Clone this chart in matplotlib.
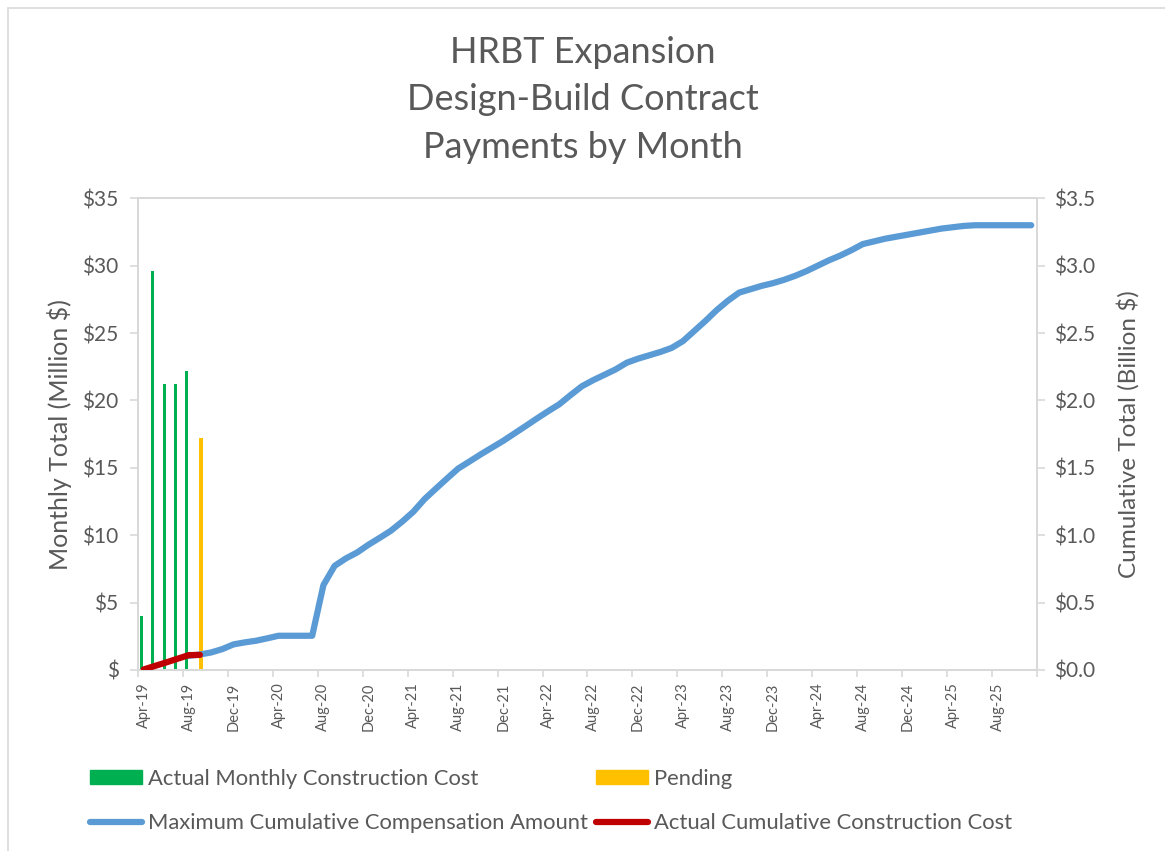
import matplotlib
matplotlib.use("Agg")
import matplotlib.pyplot as plt
import numpy as np
from matplotlib.lines import Line2D
from matplotlib.patches import Patch, Rectangle
from matplotlib.ticker import FuncFormatter

plt.rcParams['font.family'] = ['Lato', 'DejaVu Sans']

GREY_TXT = "#595959"
GREY_LN = "#D9D9D9"

# months on the category axis: Apr-19 .. Nov-25
n_months = 80
tick_labels = ["Apr-19", "Aug-19", "Dec-19", "Apr-20", "Aug-20", "Dec-20", "Apr-21",
               "Aug-21", "Dec-21", "Apr-22", "Aug-22", "Dec-22", "Apr-23", "Aug-23",
               "Dec-23", "Apr-24", "Aug-24", "Dec-24", "Apr-25", "Aug-25"]

# monthly payments, million $ (Apr-19 .. Aug-19)
actual_monthly = [4.0, 29.6, 21.2, 21.2, 22.2]
# pending payment, Sep-19
pending_start = 5
pending_monthly = [17.2]

# actual cumulative, billion $ (Apr-19 .. Sep-19)
actual_cum = [0.004, 0.030, 0.056, 0.083, 0.110, 0.112]

# maximum cumulative compensation, billion $ (Aug-19 .. Nov-25)
max_start = 4
max_cum = [0.105, 0.115, 0.13, 0.155, 0.19, 0.205, 0.217, 0.235, 0.254, 0.254,
           0.254, 0.254, 0.63, 0.773, 0.828, 0.872, 0.929, 0.98, 1.033, 1.10,
           1.174, 1.268, 1.345, 1.421, 1.495, 1.547, 1.60, 1.65, 1.70, 1.755,
           1.81, 1.866, 1.92, 1.972, 2.04, 2.105, 2.15, 2.19, 2.23, 2.28,
           2.31, 2.335, 2.36, 2.39, 2.44, 2.515, 2.59, 2.67, 2.74, 2.80,
           2.825, 2.85, 2.87, 2.895, 2.925, 2.96, 3.00, 3.04, 3.075, 3.115,
           3.16, 3.18, 3.20, 3.215, 3.23, 3.245, 3.26, 3.275, 3.285, 3.295,
           3.30, 3.30, 3.30, 3.30, 3.30, 3.30]

fig = plt.figure(figsize=(11.65, 8.51), dpi=100)
fig.subplots_adjust(left=0.1185, right=0.890, bottom=0.2127, top=0.767)
ax = fig.add_subplot(1, 1, 1)
ax2 = ax.twinx()

# chart border (left / top visible)
fig.patches.append(Rectangle((8 / 1165, -0.01), 1.02, 1 - 8 / 851 + 0.01,
                             transform=fig.transFigure, fill=False,
                             edgecolor=GREY_LN, linewidth=1.2))

x_act = np.arange(len(actual_monthly))
ax.bar(x_act - 0.18, actual_monthly, width=0.25, color="#00B050", zorder=2)
x_pen = np.arange(pending_start, pending_start + len(pending_monthly))
ax.bar(x_pen + 0.09, pending_monthly, width=0.38, color="#FFC000", zorder=2)

x_max = np.arange(max_start, max_start + len(max_cum))
ax2.plot(x_max, max_cum, color="#5B9BD5", lw=4.5, solid_capstyle="round",
         solid_joinstyle="round", zorder=3)
ax2.plot(np.arange(len(actual_cum)), actual_cum, color="#C00000", lw=4.5,
         solid_capstyle="round", solid_joinstyle="round", zorder=4)

ax.set_xlim(-0.5, n_months - 0.5)
ax.set_ylim(0, 35)
ax2.set_ylim(0, 3.5)
ax.set_yticks(np.arange(0, 36, 5))
ax2.set_yticks(np.arange(0, 3.6, 0.5))
ax.yaxis.set_major_formatter(FuncFormatter(lambda v, p: "$" if v == 0 else f"${v:.0f}"))
ax2.yaxis.set_major_formatter(FuncFormatter(lambda v, p: f"${v:.1f}"))

ax.set_xticks(np.arange(0, n_months, 4))
ax.set_xticklabels(tick_labels, rotation=90, fontsize=10.5, color=GREY_TXT)
ax.set_xticks(np.arange(-0.5, n_months + 0.5, 4), minor=True)
ax.tick_params(axis="x", which="major", length=0, pad=9)
ax.tick_params(axis="x", which="minor", length=5, color=GREY_LN, width=1.2)
ax.tick_params(axis="y", length=6, color=GREY_LN, width=1.2, labelsize=15,
               labelcolor=GREY_TXT, pad=8)
ax2.tick_params(axis="y", length=6, color=GREY_LN, width=1.2, labelsize=15,
                labelcolor=GREY_TXT, pad=6)

for a in (ax, ax2):
    for s in a.spines.values():
        s.set_color(GREY_LN)
        s.set_linewidth(1.4)

ax.set_ylabel("Monthly Total (Million $)", fontsize=18, color=GREY_TXT)
ax.yaxis.set_label_coords(-0.073, 0.5)
ax2.set_ylabel("Cumulative Total (Billion $)", fontsize=17.5, color=GREY_TXT)
ax2.yaxis.set_label_coords(1.089, 0.5)

fig.text(0.5, 1 - 100 / 851, "HRBT Expansion\nDesign-Build Contract\nPayments by Month",
         ha="center", va="center", fontsize=26, color=GREY_TXT, linespacing=1.52)

handles = [
    Patch(color="#00B050", label="Actual Monthly Construction Cost"),
    Line2D([], [], color="#5B9BD5", lw=4.5, solid_capstyle="round",
           label="Maximum Cumulative Compensation Amount"),
    Patch(color="#FFC000", label="Pending"),
    Line2D([], [], color="#C00000", lw=4.5, solid_capstyle="round",
           label="Actual Cumulative Construction Cost"),
]
leg = fig.legend(handles=handles, ncol=2, loc="upper left",
                 bbox_to_anchor=(70 / 1165, 1 - 749 / 851), frameon=False,
                 fontsize=15.8, handlelength=2.4, handleheight=0.6,
                 handletextpad=0.25, columnspacing=0.35, labelspacing=1.1)
for t in leg.get_texts():
    t.set_color(GREY_TXT)

fig.savefig("out.png", dpi=100)
